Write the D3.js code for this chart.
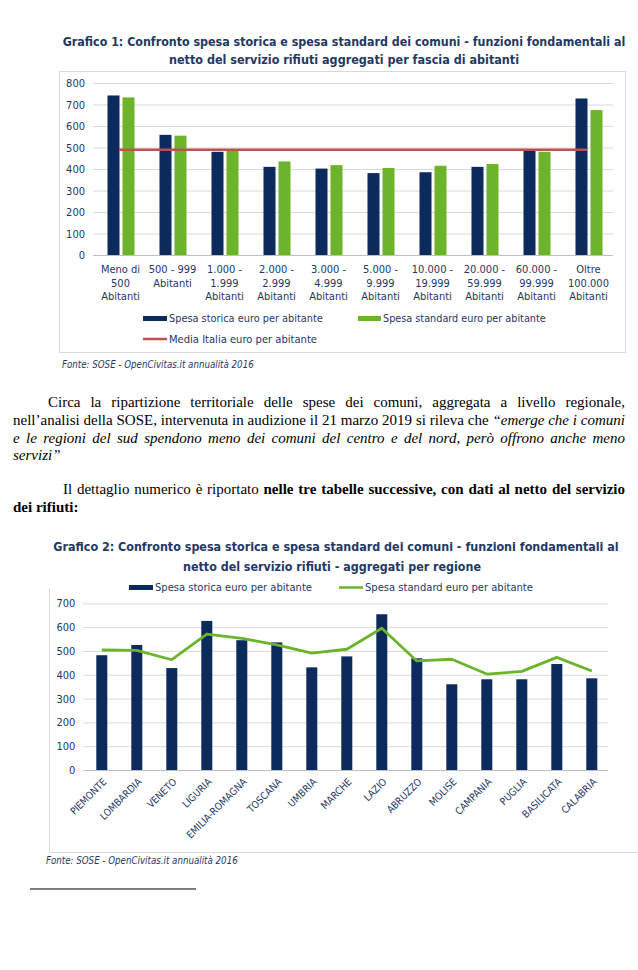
<!DOCTYPE html>
<html>
<head>
<meta charset="utf-8">
<script src="https://cdn.jsdelivr.net/npm/d3@7"></script>
<style>
body { margin: 0; background: #fff; }
svg { display: block; }
</style>
</head>
<body>
<svg id="page" width="638" height="970"></svg>
<script>
// ---- data: grafico 1 (fasce di abitanti)
var fasce = [
    ["Meno di", "500", "Abitanti"],
    ["500 - 999", "Abitanti"],
    ["1.000 -", "1.999", "Abitanti"],
    ["2.000 -", "2.999", "Abitanti"],
    ["3.000 -", "4.999", "Abitanti"],
    ["5.000 -", "9.999", "Abitanti"],
    ["10.000 -", "19.999", "Abitanti"],
    ["20.000 -", "59.999", "Abitanti"],
    ["60.000 -", "99.999", "Abitanti"],
    ["Oltre", "100.000", "Abitanti"]
];
var storica1 = [742, 559, 480, 410, 402, 381, 385, 410, 486, 728];
var standard1 = [733, 555, 488, 435, 418, 405, 415, 423, 480, 674];
var mediaItalia = 489;
var ticks1 = [0, 100, 200, 300, 400, 500, 600, 700, 800];

// ---- data: grafico 2 (regioni)
var regioni = ["PIEMONTE", "LOMBARDIA", "VENETO", "LIGURIA", "EMILIA-ROMAGNA", "TOSCANA", "UMBRIA",
    "MARCHE", "LAZIO", "ABRUZZO", "MOLISE", "CAMPANIA", "PUGLIA", "BASILICATA", "CALABRIA"];
var storica2 = [482, 525, 428, 626, 545, 536, 431, 477, 654, 469, 360, 381, 381, 445, 385];
var standard2 = [504, 502, 463, 571, 553, 525, 491, 507, 595, 458, 465, 403, 414, 473, 416];
var ticks2 = [0, 100, 200, 300, 400, 500, 600, 700];

var NAVY = "#0c2a5b", GREEN = "#6cb42c", RED = "#c0504d", TXT = "#1f3864", GRID = "#d9d9d9";
var SANS = "'DejaVu Sans Condensed', Roboto, sans-serif";
var SERIF = "'Liberation Serif', 'Times New Roman', serif";

var svg = d3.select("#page");

// shrink/grow font so the text spans w pixels
function fit(sel, w) {
    var len = sel.node().getComputedTextLength();
    var fs = parseFloat(sel.attr("font-size"));
    sel.attr("font-size", (fs * w / len).toFixed(2));
    return sel;
}

function label(x, y, txt, opts) {
    opts = opts || {};
    var t = svg.append("text")
        .attr("x", x).attr("y", y)
        .attr("font-family", SANS)
        .attr("font-size", opts.size || 11)
        .attr("fill", opts.fill || TXT)
        .attr("text-anchor", opts.anchor || "start")
        .text(txt);
    if (opts.bold) t.attr("font-weight", "bold");
    if (opts.italic) t.attr("font-style", "italic");
    if (opts.width) fit(t, opts.width);
    return t;
}

// ================= GRAFICO 1 =================
label(344, 46, "Grafico 1: Confronto spesa storica e spesa standard dei comuni - funzioni fondamentali al",
    {size: 13, bold: true, anchor: "middle", width: 563});
label(344, 64, "netto del servizio rifiuti aggregati per fascia di abitanti",
    {size: 13, bold: true, anchor: "middle", width: 350});

svg.append("rect").attr("x", 59.5).attr("y", 71.5).attr("width", 566).attr("height", 281)
    .attr("fill", "none").attr("stroke", GRID);

var x1 = d3.scaleBand().domain(d3.range(fasce.length)).range([93, 613]);
var y1 = d3.scaleLinear().domain([0, 800]).range([255, 83]);

var ax1 = svg.append("g").attr("transform", "translate(93,0)")
    .call(d3.axisLeft(y1).tickValues(ticks1).tickSize(-(613 - 93)).tickPadding(8));
ax1.select(".domain").remove();
ax1.selectAll(".tick line").attr("stroke", function(d) { return d === 0 ? "#bfbfbf" : GRID; });
ax1.selectAll(".tick text").attr("font-family", SANS).attr("font-size", 11).attr("fill", TXT);

var g1 = svg.append("g");
g1.selectAll(".bar-storica").data(storica1).join("rect")
    .attr("class", "bar-storica")
    .attr("x", function(d, i) { return x1(i) + x1.bandwidth() / 2 - 11.5; })
    .attr("width", 12)
    .attr("y", function(d) { return y1(d); })
    .attr("height", function(d) { return y1(0) - y1(d); })
    .attr("fill", NAVY);
g1.selectAll(".bar-standard").data(standard1).join("rect")
    .attr("class", "bar-standard")
    .attr("x", function(d, i) { return x1(i) + x1.bandwidth() / 2 + 3.5; })
    .attr("width", 12)
    .attr("y", function(d) { return y1(d); })
    .attr("height", function(d) { return y1(0) - y1(d); })
    .attr("fill", GREEN);

g1.append("line")
    .attr("x1", x1(0) + x1.bandwidth() / 2).attr("x2", x1(fasce.length - 1) + x1.bandwidth() / 2)
    .attr("y1", y1(mediaItalia)).attr("y2", y1(mediaItalia))
    .attr("stroke", RED).attr("stroke-width", 2.5);

fasce.forEach(function(lines, i) {
    var cx = x1(i) + x1.bandwidth() / 2 + 1.5;
    var t = svg.append("text").attr("font-family", SANS).attr("font-size", 11)
        .attr("fill", TXT).attr("text-anchor", "middle");
    lines.forEach(function(s, k) {
        t.append("tspan").attr("x", cx).attr("y", 273 + k * 13.5).text(s);
    });
});

// legend 1
svg.append("rect").attr("x", 143).attr("y", 316).attr("width", 24).attr("height", 5).attr("fill", NAVY);
label(169, 322, "Spesa storica euro per abitante", {width: 154});
svg.append("rect").attr("x", 358).attr("y", 316).attr("width", 23).attr("height", 5).attr("fill", GREEN);
label(383, 322, "Spesa standard euro per abitante", {width: 163});
svg.append("line").attr("x1", 143).attr("x2", 167).attr("y1", 339).attr("y2", 339)
    .attr("stroke", RED).attr("stroke-width", 2.5);
label(169, 343, "Media Italia euro per abitante", {width: 148});

label(62, 368, "Fonte: SOSE - OpenCivitas.it annualità 2016", {italic: true, width: 192});

// ================= TESTO =================
var paragraphs = [
    {x0: 48, y: 407, justify: true, segs: [["n", "Circa la ripartizione territoriale delle spese dei comuni, aggregata a livello regionale,"]]},
    {x0: 13, y: 425, justify: true, segs: [["n", "nell’analisi della SOSE, intervenuta in audizione il 21 marzo 2019 si rileva che"], ["i", "“emerge che i comuni"]]},
    {x0: 13, y: 443, justify: true, segs: [["i", "e le regioni del sud spendono meno dei comuni del centro e del nord, però offrono anche meno"]]},
    {x0: 13, y: 460, justify: false, segs: [["i", "servizi”"]]},
    {x0: 63, y: 494, justify: true, segs: [["n", "Il dettaglio numerico è riportato"], ["b", "nelle tre tabelle successive, con dati al netto del servizio"]]},
    {x0: 13, y: 512, justify: false, segs: [["b", "dei rifiuti:"]]}
];
var textRight = 625;

paragraphs.forEach(function(p) {
    var words = [];
    p.segs.forEach(function(s) {
        s[1].split(" ").forEach(function(w) { words.push({t: w, s: s[0]}); });
    });
    var nodes = words.map(function(w) {
        return svg.append("text").attr("y", p.y)
            .attr("font-family", SERIF).attr("font-size", 15).attr("fill", "#000")
            .attr("font-style", w.s === "i" ? "italic" : null)
            .attr("font-weight", w.s === "b" ? "bold" : null)
            .text(w.t);
    });
    var widths = nodes.map(function(n) { return n.node().getComputedTextLength(); });
    var gap = p.justify && words.length > 1 ? (textRight - p.x0 - d3.sum(widths)) / (words.length - 1) : 3.75;
    var x = p.x0;
    nodes.forEach(function(n, i) {
        n.attr("x", x);
        x += widths[i] + gap;
    });
});

// ================= GRAFICO 2 =================
label(336, 551, "Grafico 2: Confronto spesa storica e spesa standard dei comuni - funzioni fondamentali al",
    {size: 13, bold: true, anchor: "middle", width: 566});
label(332, 571, "netto del servizio rifiuti - aggregati per regione",
    {size: 13, bold: true, anchor: "middle", width: 298});

svg.append("rect").attr("x", 129).attr("y", 585).attr("width", 24).attr("height", 5).attr("fill", NAVY);
label(155, 591, "Spesa storica euro per abitante", {width: 157});
svg.append("line").attr("x1", 339).attr("x2", 363).attr("y1", 587.5).attr("y2", 587.5)
    .attr("stroke", GREEN).attr("stroke-width", 2.5);
label(365, 591, "Spesa standard euro per abitante", {width: 168});

svg.append("path").attr("d", "M49.5,588V852.5H638").attr("fill", "none").attr("stroke", GRID);

var x2 = d3.scaleBand().domain(regioni).range([83.3, 608.3]);
var y2 = d3.scaleLinear().domain([0, 700]).range([770, 603.3]);

var ax2 = svg.append("g").attr("transform", "translate(83.3,0)")
    .call(d3.axisLeft(y2).tickValues(ticks2).tickSize(-(608.3 - 83.3)).tickPadding(8));
ax2.select(".domain").remove();
ax2.selectAll(".tick line").attr("stroke", function(d) { return d === 0 ? "#bfbfbf" : GRID; });
ax2.selectAll(".tick text").attr("font-family", SANS).attr("font-size", 11).attr("fill", TXT);

svg.append("g").selectAll("rect").data(storica2).join("rect")
    .attr("x", function(d, i) { return x2(regioni[i]) + x2.bandwidth() / 2 - 4.5; })
    .attr("width", 11)
    .attr("y", function(d) { return y2(d); })
    .attr("height", function(d) { return y2(0) - y2(d); })
    .attr("fill", NAVY);

var line2 = d3.line()
    .x(function(d, i) { return x2(regioni[i]) + x2.bandwidth() / 2 + 1; })
    .y(function(d) { return y2(d); });
svg.append("path").datum(standard2).attr("d", line2)
    .attr("fill", "none").attr("stroke", GREEN).attr("stroke-width", 2.8)
    .attr("stroke-linejoin", "round");

regioni.forEach(function(r) {
    var cx = x2(r) + x2.bandwidth() / 2 + 4;
    svg.append("text")
        .attr("transform", "translate(" + cx + ",780) rotate(-45)")
        .attr("font-family", SANS).attr("font-size", 10).attr("fill", TXT)
        .attr("text-anchor", "end").attr("dy", "0.35em")
        .text(r);
});

label(46, 864, "Fonte: SOSE - OpenCivitas.it annualità 2016", {italic: true, width: 192});

// footnote rule
svg.append("line").attr("x1", 30).attr("x2", 196).attr("y1", 889).attr("y2", 889)
    .attr("stroke", "#000").attr("stroke-width", 1.2);
</script>
</body>
</html>
